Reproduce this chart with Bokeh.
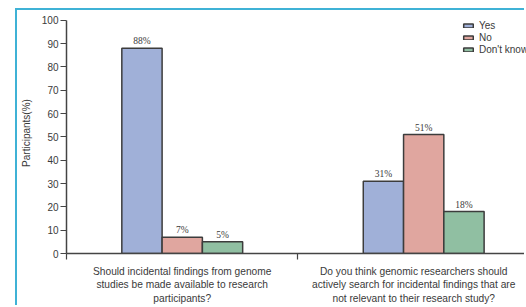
from bokeh.plotting import figure
from bokeh.models import (ColumnDataSource, Range1d, FixedTicker, Legend, LegendItem,
                          LabelSet)
from bokeh.embed import file_html
from bokeh.resources import INLINE

# ---- data ----
questions = [
    "Should incidental findings from genome\nstudies be made available to research\nparticipants?",
    "Do you think genomic researchers should\nactively search for incidental findings that are\nnot relevant to their research study?",
]
responses = ["Yes", "No", "Don't know"]
yes_pct = [88, 31]
no_pct = [7, 51]
dont_know_pct = [5, 18]
y_ticks = [0, 10, 20, 30, 40, 50, 60, 70, 80, 90, 100]

colors = ["#a0b0d8", "#e0a69f", "#90bfa2"]
FONT = "Liberation Sans"
TXT = "#3a3a3a"
CYAN = "#3fb2d6"

# layout tweaks
bar_w = 0.174
offsets = [-0.174, 0.0, 0.174]
group_centers = [i + 0.5 + s for i, s in enumerate([0.0, 0.043])]

W, H = 509, 297
px_per_unit = 237 / 100          # vertical scale of the original panel
p = figure(width=W, height=H, output_backend="svg", toolbar_location=None,
           x_range=Range1d(0, (W - 48) / 232),
           y_range=Range1d(0, 100 + 8 / px_per_unit),
           min_border_left=48, min_border_right=0, min_border_top=2,
           min_border_bottom=50)
p.margin = (8, 0, 0, 15)
p.styles = {"border-left": f"2px solid {CYAN}", "border-top": f"2px solid {CYAN}"}
p.outline_line_color = None
p.xgrid.visible = False
p.ygrid.visible = False
p.background_fill_color = "white"

series = [yes_pct, no_pct, dont_know_pct]
renderers = []
for k, vals in enumerate(series):
    xs = [c + offsets[k] for c in group_centers]
    src = ColumnDataSource(dict(x=xs, top=vals, lab=[f"{v}%" for v in vals]))
    r = p.vbar(x="x", top="top", width=bar_w, bottom=0, source=src,
               fill_color=colors[k], line_color="#3c3c3c", line_width=1.5)
    renderers.append(r)
    p.add_layout(LabelSet(x="x", y="top", text="lab", source=src,
                          text_align="center", text_baseline="bottom",
                          y_offset=2, text_font_size="9.5px", text_color=TXT,
                          text_font=FONT))

# y axis
ya = p.yaxis[0]
ya.ticker = FixedTicker(ticks=y_ticks)
ya.bounds = (0, 100)
ya.axis_label = "Participants(%)"
ya.axis_label_text_font_size = "10px"
ya.axis_label_text_font_style = "normal"
ya.axis_label_text_font = FONT
ya.axis_label_text_color = TXT
ya.axis_label_standoff = 7
ya.major_label_text_font_size = "10px"
ya.major_label_text_font = FONT
ya.major_label_text_color = TXT
ya.major_tick_in = 0
ya.major_tick_out = 6
ya.minor_tick_line_color = None
ya.axis_line_color = "#444444"
ya.axis_line_width = 1.5
ya.major_tick_line_color = "#444444"
ya.major_tick_line_width = 1.2
ya.major_label_standoff = 2

# x axis
xa = p.xaxis[0]
xa.ticker = FixedTicker(ticks=[0.5, 1.5], minor_ticks=[0, 1, 2])
xa.major_label_overrides = {0.5: questions[0], 1.5: questions[1]}
xa.major_label_text_font_size = "10.2px"
xa.major_label_text_font = FONT
xa.major_label_text_color = TXT
xa.major_label_text_line_height = 1.25
xa.major_tick_line_color = None
xa.major_tick_out = 0
xa.major_tick_in = 0
xa.minor_tick_in = 0
xa.minor_tick_out = 6
xa.minor_tick_line_color = "#444444"
xa.minor_tick_line_width = 1.2
xa.axis_line_color = "#444444"
xa.axis_line_width = 1.5
xa.major_label_standoff = 6

legend = Legend(items=[LegendItem(label=responses[k], renderers=[renderers[k]])
                       for k in range(3)],
                location=(396, 198), padding=0, margin=0, spacing=0,
                label_height=12, glyph_height=5, glyph_width=12,
                label_standoff=5, label_text_font_size="10px",
                label_text_font=FONT, label_text_color=TXT,
                border_line_color=None, background_fill_alpha=0)
p.add_layout(legend)

open("out.html", "w").write(file_html(p, INLINE))
